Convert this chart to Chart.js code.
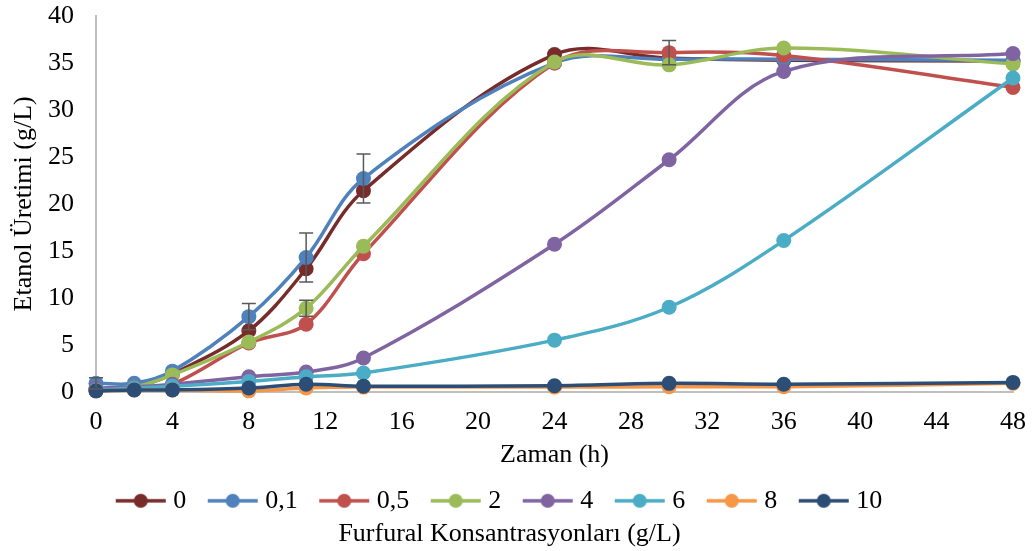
<!DOCTYPE html>
<html>
<head>
<meta charset="utf-8">
<script src="https://cdn.jsdelivr.net/npm/chart.js@4/dist/chart.umd.min.js"></script>
<style>
html,body{margin:0;padding:0;background:#fff;}
#wrap{width:1034px;height:551px;position:relative;}
</style>
</head>
<body>
<div id="wrap"><canvas id="c" width="1034" height="551"></canvas></div>
<script>
// ---- data ----
const times = [0, 2, 4, 8, 11, 14, 24, 30, 36, 48];
const seriesNames = ["0", "0,1", "0,5", "2", "4", "6", "8", "10"];
const s0  = [0.2, 0.5, 1.9, 6.5, 13.1, 21.4, 35.9, 35.5, 35.3, 35.2];
const s01 = [0.9, 0.9, 2.2, 8.0, 14.3, 22.7, 35.0, 35.4, 35.4, 35.3];
const s05 = [0.1, 0.3, 0.8, 5.2, 7.2, 14.7, 35.0, 36.1, 35.8, 32.4];
const s2  = [0.3, 0.5, 1.8, 5.3, 8.9, 15.5, 35.1, 34.8, 36.6, 34.9];
const s4  = [0.4, 0.5, 0.8, 1.6, 2.1, 3.6, 15.7, 24.7, 34.1, 36.0];
const s6  = [0.2, 0.4, 0.6, 1.1, 1.6, 2.0, 5.5, 9.0, 16.1, 33.4];
const s8  = [0.1, 0.2, 0.2, 0.1, 0.4, 0.5, 0.5, 0.55, 0.55, 0.9];
const s10 = [0.1, 0.2, 0.2, 0.4, 0.8, 0.6, 0.65, 0.9, 0.8, 1.0];
// error bars (± values, 0 = none)
const err01 = [0.6, 0, 0, 1.4, 2.6, 2.6, 0, 0, 0, 0];
const err2  = [0, 0, 0, 0, 0.85, 0, 0, 0, 0, 0];
const err05 = [0, 0, 0, 0, 0, 0, 0, 1.3, 0, 0];
const xTicks = [0, 4, 8, 12, 16, 20, 24, 28, 32, 36, 40, 44, 48];
const yTicks = [0, 5, 10, 15, 20, 25, 30, 35, 40];

const values = [s0, s01, s05, s2, s4, s6, s8, s10];
const errors = [null, err01, err05, err2, null, null, null, null];
const colors = ["#772C2A", "#4F81BD", "#C0504D", "#9BBB59", "#8064A2", "#4BACC6", "#F79646", "#2C4D75"];

const FONT = "'Liberation Serif', 'Times New Roman', serif";
const FS = 26;
const LEG_BOX = 56;          // legend box width used by Chart.js
const ICON_W = LEG_BOX + 13; // icon canvas width (line at its right part)

function legendIcon(color) {
  const cv = document.createElement('canvas');
  cv.width = ICON_W; cv.height = 18;
  const g = cv.getContext('2d');
  const x0 = ICON_W - 52;
  g.strokeStyle = color; g.lineWidth = 3.5;
  g.beginPath(); g.moveTo(x0 + 1, 9); g.lineTo(ICON_W - 1, 9); g.stroke();
  g.fillStyle = color;
  g.beginPath(); g.arc(x0 + 26, 9, 7, 0, Math.PI * 2); g.fill();
  return cv;
}

const datasets = values.map((v, i) => ({
  label: seriesNames[i],
  data: times.map((t, j) => ({x: t, y: v[j]})),
  borderColor: colors[i],
  backgroundColor: colors[i],
  borderWidth: 3.5,
  pointRadius: 7.5,
  pointHoverRadius: 7.5,
  pointBorderWidth: 0,
  pointBackgroundColor: colors[i],
  pointStyle: 'circle',
  tension: 0.35,
  order: 10 - i,
  clip: false,
  fill: false
}));
const icons = colors.map(legendIcon);

const errorBarPlugin = {
  id: 'errorBars',
  afterDatasetsDraw(chart) {
    const ctx = chart.ctx;
    const xs = chart.scales.x, ys = chart.scales.y;
    ctx.save();
    ctx.strokeStyle = '#595959';
    ctx.lineWidth = 1.5;
    errors.forEach((e, i) => {
      if (!e) return;
      e.forEach((ev, j) => {
        if (!ev) return;
        const px = xs.getPixelForValue(times[j]);
        const top = ys.getPixelForValue(values[i][j] + ev);
        const bot = ys.getPixelForValue(values[i][j] - ev);
        ctx.beginPath();
        ctx.moveTo(px, top); ctx.lineTo(px, bot);
        ctx.moveTo(px - 7, top); ctx.lineTo(px + 7, top);
        ctx.moveTo(px - 7, bot); ctx.lineTo(px + 7, bot);
        ctx.stroke();
      });
    });
    ctx.restore();
  }
};

new Chart(document.getElementById('c'), {
  type: 'line',
  data: { datasets },
  plugins: [errorBarPlugin],
  options: {
    responsive: false,
    animation: false,
    layout: { padding: { left: 6, right: 21, top: 0, bottom: 1 } },
    plugins: {
      tooltip: { enabled: false },
      legend: {
        position: 'bottom',
        labels: {
          usePointStyle: true,
          pointStyleWidth: LEG_BOX,
          boxHeight: 18,
          padding: 10,
          color: '#000',
          font: { family: FONT, size: FS },
          generateLabels(chart) {
            const n = chart.data.datasets.length;
            return chart.data.datasets.map((d, i) => ({
              text: i === n - 1 ? d.label + '\u00a0\u00a0\u00a0\u00a0\u00a0' : d.label,
              fillStyle: d.borderColor,
              strokeStyle: d.borderColor,
              lineWidth: 0,
              pointStyle: icons[i],
              datasetIndex: i,
              hidden: false,
              fontColor: '#000'
            }));
          },
          sort: (a, b) => a.datasetIndex - b.datasetIndex
        }
      },
      title: {
        display: true,
        position: 'bottom',
        text: 'Furfural Konsantrasyonları (g/L)',
        color: '#000',
        font: { family: FONT, size: FS, weight: 'normal' },
        padding: { top: -5, bottom: 0 }
      }
    },
    scales: {
      x: {
        type: 'linear',
        min: 0, max: 48,
        afterBuildTicks(scale) { scale.ticks = xTicks.map(v => ({value: v})); },
        afterFit(scale) { scale.height = 86; scale.paddingLeft = 0; scale.paddingRight = 0; },
        grid: { display: false, drawTicks: false },
        border: { display: true, color: '#BFBFBF', width: 2 },
        ticks: { color: '#000', font: { family: FONT, size: FS }, padding: 15, maxRotation: 0, autoSkip: false },
        title: { display: true, text: 'Zaman (h)', color: '#000', font: { family: FONT, size: FS }, padding: { top: 0, bottom: 7 } }
      },
      y: {
        type: 'linear',
        min: 0, max: 40,
        afterBuildTicks(scale) { scale.ticks = yTicks.map(v => ({value: v})); },
        afterFit(scale) { scale.width = 90; scale.paddingTop = 16; scale.paddingBottom = 0; },
        grid: { display: false, drawTicks: false },
        border: { display: true, color: '#BFBFBF', width: 2 },
        ticks: { color: '#000', font: { family: FONT, size: FS }, padding: 22 },
        title: { display: true, text: 'Etanol Üretimi (g/L)', color: '#000', font: { family: FONT, size: FS }, padding: { top: 3, bottom: 0 } }
      }
    }
  }
});
</script>
</body>
</html>
